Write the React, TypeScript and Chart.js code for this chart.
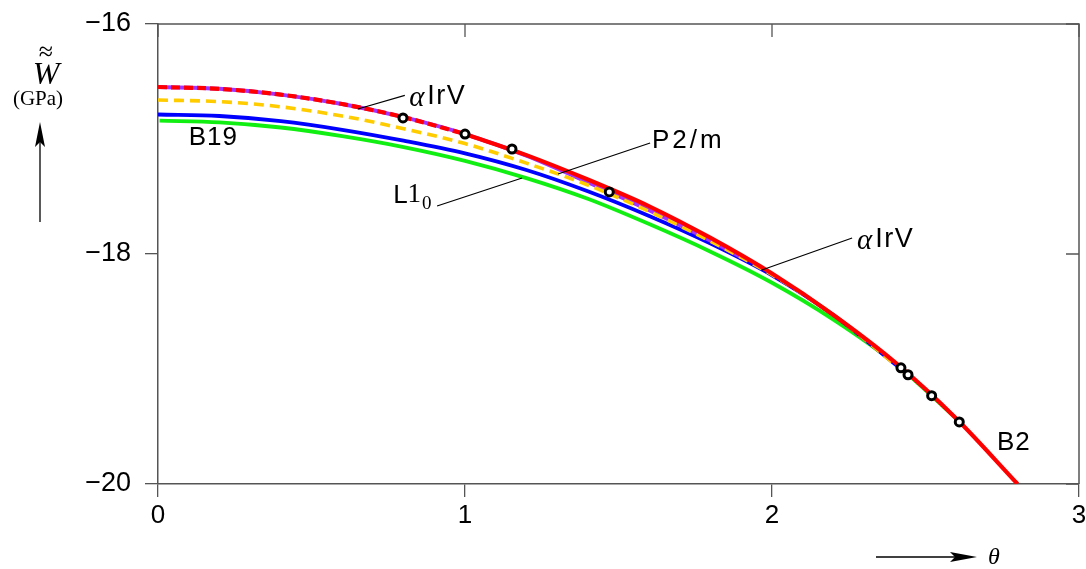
import React, { useEffect, useRef } from "react";
import { Chart, registerables } from "chart.js";

Chart.register(...registerables);

const SANS = '"Liberation Sans", Arial, sans-serif';
const SERIF = '"Liberation Serif", "DejaVu Serif", serif';

// ---------- data (θ, W̃̃ in GPa) ----------
const thetaRed = [0, 0.2, 0.4, 0.6, 0.8, 1.0, 1.2, 1.4, 1.6, 1.8, 2.0, 2.2, 2.4, 2.6, 2.8];
const wRed = [-16.548, -16.564, -16.614, -16.696, -16.81, -16.957, -17.14, -17.352, -17.585, -17.86, -18.17, -18.53, -18.94, -19.43, -20.0];
const redDashedEnd = 1.0; // red dashed up to θ = 1, solid afterwards

const thetaPurple = [0, 0.2, 0.4, 0.6, 0.8, 1.0, 1.2, 1.4, 1.6, 1.8, 1.9];
const wPurple = [-16.548, -16.564, -16.614, -16.696, -16.81, -16.957, -17.145, -17.375, -17.62, -17.885, -18.03];

const thetaYellow = [0, 0.2, 0.4, 0.6, 0.8, 1.0, 1.2, 1.4, 1.6, 1.8, 2.0, 2.2, 2.45];
const wYellow = [-16.661, -16.675, -16.72, -16.8, -16.91, -17.04, -17.21, -17.4, -17.63, -17.89, -18.18, -18.53, -19.07];

const thetaBlue = [0, 0.2, 0.4, 0.6, 0.8, 1.0, 1.2, 1.4, 1.6, 1.8, 2.0, 2.2, 2.42];
const wBlue = [-16.787, -16.8, -16.845, -16.92, -17.015, -17.125, -17.27, -17.455, -17.67, -17.91, -18.185, -18.53, -19.0];

const thetaGreen = [0.005, 0.2, 0.4, 0.6, 0.8, 1.0, 1.2, 1.4, 1.6, 1.8, 2.0, 2.2, 2.4, 2.616];
const wGreen = [-16.84, -16.855, -16.9, -16.975, -17.07, -17.19, -17.34, -17.52, -17.74, -17.98, -18.25, -18.57, -18.95, -19.47];

const thetaDots = [0.798, 1.0, 1.153, 1.47, 2.42, 2.443, 2.52, 2.61];
const wDots = [-16.817, -16.957, -17.087, -17.46, -18.99, -19.05, -19.232, -19.46];

const xTicks = [0, 1, 2, 3];
const yTicks = [-20, -18, -16];

// annotation labels (anchor = left / vertical centre, in data coordinates)
const labelNames = ["αIrV", "B19", "P2/m", "L1₀", "αIrV", "B2"];
const labelTheta = [0.818, 0.1, 1.609, 0.766, 2.277, 2.733];
const labelW = [-16.635, -16.991, -17.017, -17.49, -17.878, -19.643];

// leader lines: [θ1, W1, θ2, W2]
const leaders = [
  [0.651, -16.739, 0.804, -16.62],
  [1.603, -17.035, 1.303, -17.304],
  [0.909, -17.583, 1.186, -17.339],
  [2.261, -17.861, 1.967, -18.139],
];

const pts = (xs: number[], ys: number[]) => xs.map((x, i) => ({ x, y: ys[i] }));

const redDashedPts = pts(thetaRed, wRed).filter((p) => p.x <= redDashedEnd);
const redSolidPts = pts(thetaRed, wRed).filter((p) => p.x >= redDashedEnd);

function drawLabel(ctx: any, name: string, x: number, y: number) {
  ctx.fillStyle = "#000";
  ctx.textBaseline = "middle";
  ctx.textAlign = "left";
  ctx.letterSpacing = "0px";
  if (name.startsWith("α")) {
    ctx.font = `italic 29px ${SERIF}`;
    ctx.fillText("α", x, y + 1);
    const w = ctx.measureText("α").width;
    ctx.font = `27px ${SANS}`;
    ctx.letterSpacing = "1.5px";
    ctx.fillText(name.slice(1), x + w + 3, y);
  } else if (name === "L1₀") {
    ctx.font = `26px ${SANS}`;
    ctx.fillText("L", x, y);
    let w = ctx.measureText("L").width;
    ctx.font = `27px ${SERIF}`;
    ctx.fillText("1", x + w, y);
    w += ctx.measureText("1").width;
    ctx.font = `19px ${SERIF}`;
    ctx.fillText("0", x + w + 1, y + 9);
  } else if (name === "P2/m") {
    ctx.font = `26px ${SANS}`;
    ctx.letterSpacing = "3px";
    ctx.fillText(name, x, y);
  } else {
    ctx.font = `26px ${SANS}`;
    ctx.letterSpacing = "1px";
    ctx.fillText(name, x, y);
  }
  ctx.letterSpacing = "0px";
}

const overlay = {
  id: "overlay",
  afterDraw(chart: any) {
    const { ctx, chartArea: a, scales } = chart;
    const xs = scales.x;
    const ys = scales.y;
    ctx.save();
    // frame (top & right) and inward ticks
    ctx.strokeStyle = "#555";
    ctx.lineWidth = 1.5;
    ctx.beginPath();
    ctx.moveTo(a.left, a.top);
    ctx.lineTo(a.right, a.top);
    ctx.lineTo(a.right, a.bottom);
    ctx.stroke();
    ctx.lineWidth = 1.3;
    ctx.beginPath();
    for (const t of xTicks) {
      const px = xs.getPixelForValue(t);
      ctx.moveTo(px, a.top);
      ctx.lineTo(px, a.top + 13);
    }
    for (const t of yTicks) {
      const py = ys.getPixelForValue(t);
      ctx.moveTo(a.right, py);
      ctx.lineTo(a.right - 13, py);
    }
    ctx.stroke();

    // leader lines
    ctx.strokeStyle = "#000";
    ctx.lineWidth = 1.2;
    ctx.beginPath();
    for (const l of leaders) {
      ctx.moveTo(xs.getPixelForValue(l[0]), ys.getPixelForValue(l[1]));
      ctx.lineTo(xs.getPixelForValue(l[2]), ys.getPixelForValue(l[3]));
    }
    ctx.stroke();

    // labels
    labelNames.forEach((n, i) => {
      drawLabel(ctx, n, xs.getPixelForValue(labelTheta[i]), ys.getPixelForValue(labelW[i]));
    });

    // y axis title: W with double tilde, (GPa), arrow up
    ctx.fillStyle = "#000";
    ctx.textAlign = "center";
    ctx.textBaseline = "alphabetic";
    ctx.font = `italic 32px ${SERIF}`;
    ctx.fillText("W", 46, 84);
    ctx.font = `26px ${SERIF}`;
    ctx.fillText("≈", 46, 60);
    ctx.font = `21px ${SERIF}`;
    ctx.fillText("(GPa)", 38, 105);
    ctx.lineWidth = 1.3;
    ctx.beginPath();
    ctx.moveTo(40, 222);
    ctx.lineTo(40, 140);
    ctx.stroke();
    ctx.beginPath();
    ctx.moveTo(40, 122);
    ctx.lineTo(45, 147);
    ctx.lineTo(40, 142);
    ctx.lineTo(35, 147);
    ctx.closePath();
    ctx.fill();

    // x axis title: arrow → θ
    ctx.beginPath();
    ctx.moveTo(876, 557);
    ctx.lineTo(958, 557);
    ctx.stroke();
    ctx.beginPath();
    ctx.moveTo(977, 557);
    ctx.lineTo(950, 552);
    ctx.lineTo(955, 557);
    ctx.lineTo(950, 562);
    ctx.closePath();
    ctx.fill();
    ctx.font = `italic 24px ${SERIF}`;
    ctx.textAlign = "left";
    ctx.textBaseline = "middle";
    ctx.fillText("θ", 988, 558);
    ctx.restore();
  },
};

export default function App() {
  const ref = useRef<HTMLCanvasElement>(null);
  useEffect(() => {
    if (!ref.current) return;
    const lineDs = (data: any[], color: string, width: number, dash: number[] = [], order = 0) => ({
      type: "line",
      data,
      borderColor: color,
      backgroundColor: color,
      borderWidth: width,
      borderDash: dash,
      pointRadius: 0,
      fill: false,
      cubicInterpolationMode: "monotone",
      order,
    });
    const chart = new Chart(ref.current, {
      type: "line",
      data: {
        datasets: [
          {
            type: "line",
            data: pts(thetaDots, wDots),
            showLine: false,
            pointRadius: 4,
            pointBorderWidth: 3,
            pointBorderColor: "#000",
            pointBackgroundColor: "#fff",
            order: 0,
          } as any,
          lineDs(redSolidPts, "#ff0000", 4.2, [], 1),
          lineDs(redDashedPts, "#ff0000", 4.2, [9, 4], 2),
          lineDs(pts(thetaYellow, wYellow), "#ffcc00", 3.6, [10, 6], 3),
          lineDs(pts(thetaPurple, wPurple), "#a033ff", 4, [], 4),
          lineDs(pts(thetaBlue, wBlue), "#0000ff", 3.8, [], 5),
          lineDs(pts(thetaGreen, wGreen), "#11ee11", 3.8, [], 6),
        ] as any,
      },
      options: {
        responsive: false,
        maintainAspectRatio: false,
        animation: false,
        layout: { padding: { top: 24, right: 7, left: 0, bottom: 0 } },
        plugins: { legend: { display: false }, tooltip: { enabled: false } },
        scales: {
          x: {
            type: "linear",
            position: "bottom",
            min: 0,
            max: 3,
            afterFit: (s: any) => {
              s.height = 85;
              s.paddingLeft = 0;
              s.paddingRight = 0;
            },
            afterBuildTicks: (s: any) => {
              s.ticks = xTicks.map((v) => ({ value: v }));
            },
            ticks: {
              color: "#000",
              font: { family: SANS, size: 26 },
              padding: 3,
              maxRotation: 0,
              callback: (v: any) => String(v),
            },
            grid: { drawOnChartArea: false, drawTicks: true, tickLength: 13, color: "#555", lineWidth: 1.3 },
            border: { display: true, color: "#555", width: 1.5 },
          },
          y: {
            type: "linear",
            min: -20,
            max: -16,
            afterFit: (s: any) => {
              s.width = 158;
              s.paddingTop = 0;
              s.paddingBottom = 0;
            },
            afterBuildTicks: (s: any) => {
              s.ticks = yTicks.map((v) => ({ value: v }));
            },
            ticks: {
              color: "#000",
              font: { family: SANS, size: 27 },
              padding: 14,
              callback: (v: any) => "−" + Math.abs(Number(v)),
            },
            grid: { drawOnChartArea: false, drawTicks: true, tickLength: 13, color: "#555", lineWidth: 1.3 },
            border: { display: true, color: "#555", width: 1.5 },
          },
        },
      } as any,
      plugins: [overlay],
    });
    return () => chart.destroy();
  }, []);
  return (
    <div style={{ position: "fixed", left: 0, top: 0, width: 1086, height: 569, background: "#fff" }}>
      <canvas ref={ref} width={1086} height={569} style={{ display: "block" }} />
    </div>
  );
}
